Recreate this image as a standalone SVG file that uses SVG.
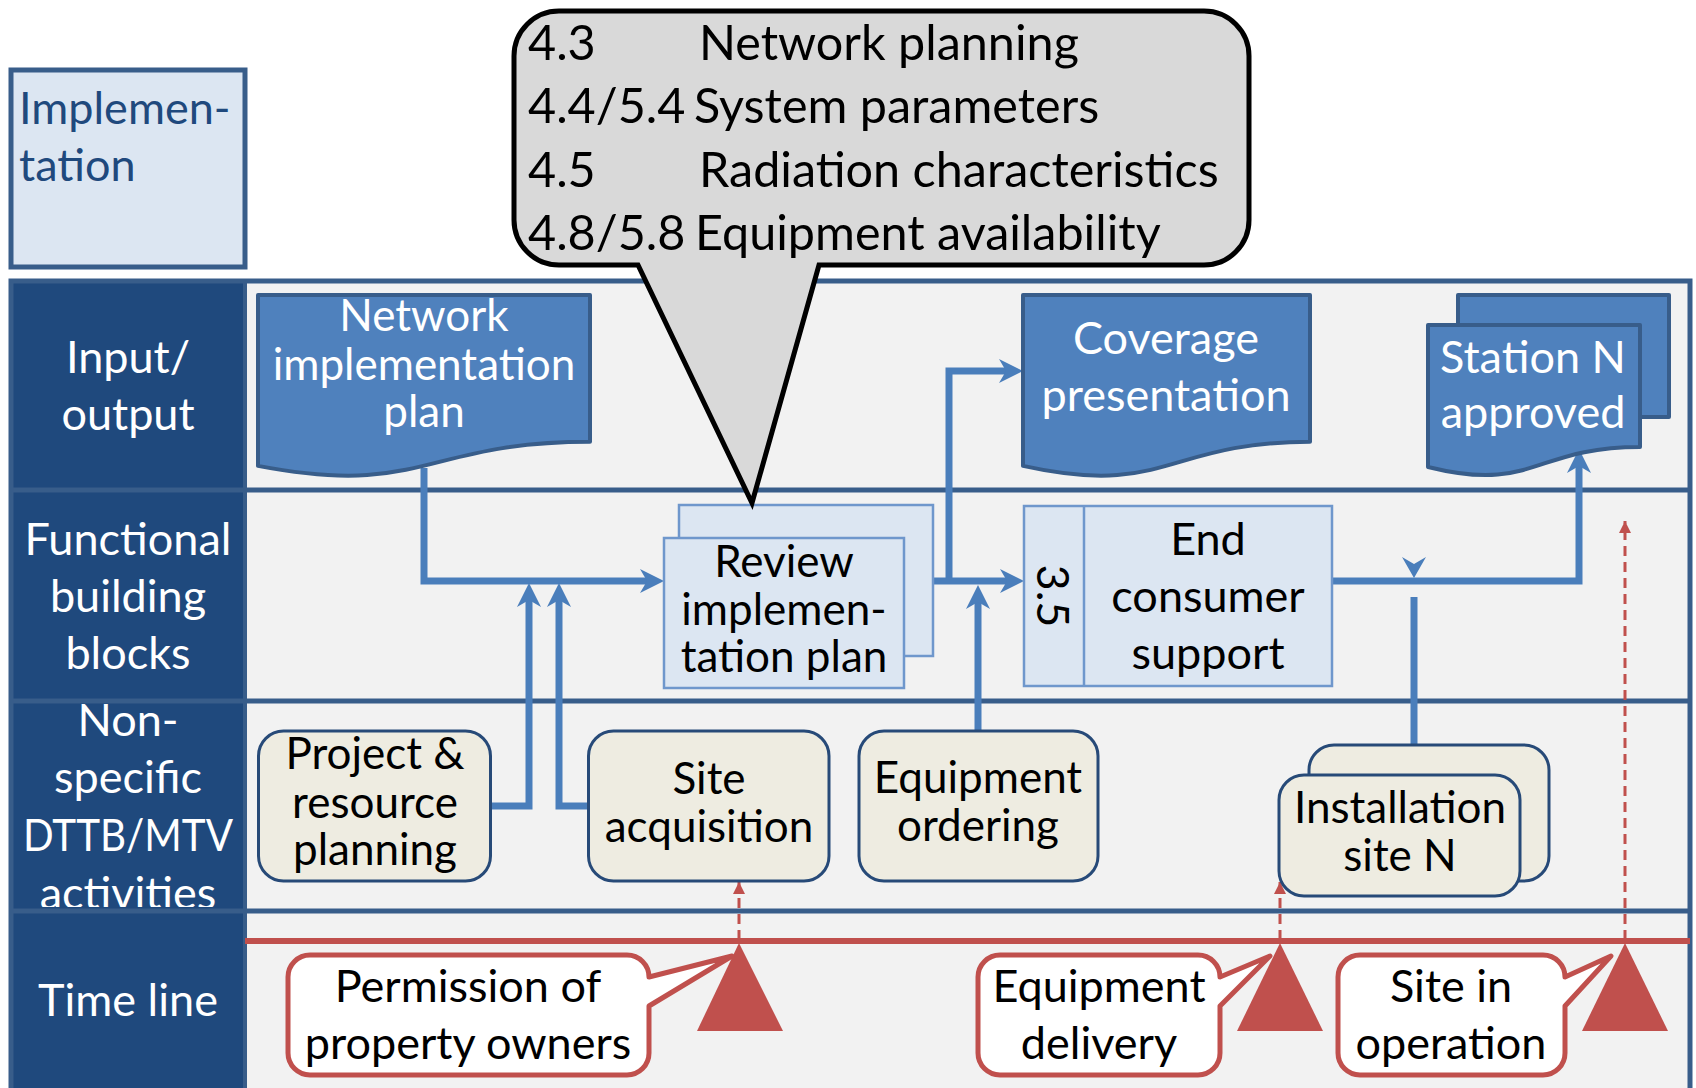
<svg xmlns="http://www.w3.org/2000/svg" width="1696" height="1088" viewBox="0 0 1696 1088">
<style>
text{font-family:Lato,"Liberation Sans",sans-serif;font-size:45px}
.hd{fill:#ffffff;text-anchor:middle}
.wt{fill:#ffffff;text-anchor:middle}
.bk{fill:#000000;text-anchor:middle}
.tight{font-size:44px}
.doc{fill:#4f81bd;stroke:#385d8a;stroke-width:4;stroke-linejoin:round}
.lb{fill:#dce6f2;stroke:#6f97cc;stroke-width:2.5}
.act{fill:#eeece1;stroke:#274a78;stroke-width:3}
.con{fill:none;stroke:#4a7ebb;stroke-width:7;stroke-linejoin:miter}
.red{fill:none;stroke:#c0504d;stroke-width:3;stroke-dasharray:10 6}
.tri{fill:#c0504d}
.co{fill:#ffffff;stroke:#c0504d;stroke-width:5;stroke-linejoin:round}
.lane{stroke:#385d8a;stroke-width:5}
.bub{font-size:48.5px;fill:#000000}
</style>
<defs>
<marker id="arr" viewBox="0 0 24 24" refX="14" refY="12" markerWidth="24" markerHeight="24" markerUnits="userSpaceOnUse" orient="auto">
<path d="M0,0 L24,12 L0,24 L7,12 Z" fill="#4a7ebb"/>
</marker>
<marker id="rarr" viewBox="0 0 12 12" refX="12" refY="6" markerWidth="12" markerHeight="12" markerUnits="userSpaceOnUse" orient="auto">
<path d="M0,0 L12,6 L0,12 Z" fill="#c0504d"/>
</marker>
<clipPath id="clipNS"><rect x="11" y="701" width="234" height="206"/></clipPath>
</defs>

<g id="frame">
<rect x="11" y="281" width="1679" height="830" fill="#f2f2f2"/>
<rect x="11" y="281" width="234" height="830" fill="#1f497d"/>
<line class="lane" x1="11" y1="490" x2="1690" y2="490"/>
<line class="lane" x1="11" y1="701" x2="1690" y2="701"/>
<line class="lane" x1="11" y1="911" x2="1690" y2="911"/>
<line x1="245" y1="281" x2="245" y2="1088" stroke="#385d8a" stroke-width="4"/>
<rect x="11" y="281" width="1679" height="830" fill="none" stroke="#385d8a" stroke-width="5"/>
</g>

<g id="lane-headers">
<text class="hd" x="128" y="373">Input/</text>
<text class="hd" x="128" y="430">output</text>
<text class="hd" x="128" y="555">Functional</text>
<text class="hd" x="128" y="612">building</text>
<text class="hd" x="128" y="669">blocks</text>
<g clip-path="url(#clipNS)">
<text class="hd" x="128" y="736">Non-</text>
<text class="hd" x="128" y="793">specific</text>
<text class="hd" x="128" y="851" textLength="210" lengthAdjust="spacingAndGlyphs">DTTB/MTV</text>
<text class="hd" x="128" y="909">activities</text>
</g>
<text class="hd" x="128" y="1016">Time line</text>
</g>

<g id="implementation">
<rect x="11" y="70" width="234" height="197" fill="#dce6f2" stroke="#385d8a" stroke-width="5"/>
<text x="19" y="124" fill="#1f497d">Implemen-</text>
<text x="19" y="181" fill="#1f497d">tation</text>
</g>

<g id="connectors">
<path class="con" d="M424,468 V581 H654" marker-end="url(#arr)"/>
<path class="con" d="M490,806 H529 V593" marker-end="url(#arr)"/>
<path class="con" d="M588,806 H559 V593" marker-end="url(#arr)"/>
<path class="con" d="M934,581 H1014" marker-end="url(#arr)"/>
<path class="con" d="M949,581 V371 H1013" marker-end="url(#arr)"/>
<path class="con" d="M978,731 V595" marker-end="url(#arr)"/>
<path class="con" d="M1332,581 H1579 V459" marker-end="url(#arr)"/>
<path class="con" d="M1414,745 V597"/>
<path d="M1402,557 L1414,578 L1426,557 L1414,564 Z" fill="#4a7ebb"/>
<path class="red" d="M739,940 V882" marker-end="url(#rarr)"/>
<path class="red" d="M1280,940 V882" marker-end="url(#rarr)"/>
<path class="red" d="M1625,940 V521" marker-end="url(#rarr)"/>
</g>

<g id="network-implementation-plan">
<path class="doc" d="M258,295 H590 V441.8 C424,441.8 424,497.7 258,465.9 Z"/>
<text class="wt tight" x="424" y="331">Network</text>
<text class="wt tight" x="424" y="380">implementation</text>
<text class="wt tight" x="424" y="427">plan</text>
</g>

<g id="coverage-presentation">
<path class="doc" d="M1023,295 H1310 V441.8 C1166.5,441.8 1166.5,497.7 1023,465.9 Z"/>
<text class="wt" x="1166" y="354">Coverage</text>
<text class="wt" x="1166" y="411">presentation</text>
</g>

<g id="station-n-approved">
<rect class="doc" x="1458" y="295" width="211" height="122"/>
<path class="doc" d="M1428,325 H1640 V446.9 C1534,446.9 1534,493.4 1428,467 Z"/>
<text class="wt" x="1533" y="373">Station N</text>
<text class="wt" x="1533" y="428">approved</text>
</g>

<g id="review-implementation-plan">
<rect class="lb" x="679" y="505" width="254" height="151"/>
<rect class="lb" x="664" y="538" width="240" height="150"/>
<text class="bk tight" x="784" y="577">Review</text>
<text class="bk tight" x="784" y="625">implemen-</text>
<text class="bk tight" x="784" y="672">tation plan</text>
</g>

<g id="end-consumer-support">
<rect class="lb" x="1024" y="506" width="308" height="180"/>
<line x1="1084" y1="506" x2="1084" y2="686" stroke="#6f97cc" stroke-width="2.5"/>
<text class="bk" transform="translate(1037,596) rotate(90)" x="0" y="0">3.5</text>
<text class="bk" x="1208" y="555">End</text>
<text class="bk" x="1208" y="612">consumer</text>
<text class="bk" x="1208" y="669">support</text>
</g>

<g id="project-resource-planning">
<rect class="act" x="258.5" y="731" width="232" height="150" rx="25"/>
<text class="bk tight" x="375" y="769">Project &amp;</text>
<text class="bk tight" x="375" y="818">resource</text>
<text class="bk tight" x="375" y="865">planning</text>
</g>

<g id="site-acquisition">
<rect class="act" x="588.5" y="731" width="240.5" height="150" rx="25"/>
<text class="bk tight" x="709" y="794">Site</text>
<text class="bk tight" x="709" y="842">acquisition</text>
</g>

<g id="equipment-ordering">
<rect class="act" x="859" y="731" width="239" height="150" rx="25"/>
<text class="bk tight" x="978" y="793">Equipment</text>
<text class="bk tight" x="978" y="841">ordering</text>
</g>

<g id="installation-site-n">
<rect class="act" x="1309" y="745" width="240" height="136" rx="25"/>
<rect class="act" x="1279" y="775" width="241" height="121" rx="25"/>
<text class="bk tight" x="1400" y="823">Installation</text>
<text class="bk tight" x="1400" y="871">site N</text>
</g>

<g id="timeline">
<line x1="245" y1="941" x2="1690" y2="941" stroke="#c0504d" stroke-width="6"/>
<polygon class="tri" points="739,943 697,1031 783,1031"/>
<polygon class="tri" points="1280,943 1237,1031 1323,1031"/>
<polygon class="tri" points="1625,943 1582,1031 1668,1031"/>
</g>

<g id="permission-of-property-owners">
<path class="co" d="M310,955 H627 A22,22 0 0 1 649,977 L732,956 L649,1006 V1053 A22,22 0 0 1 627,1075 H310 A22,22 0 0 1 288,1053 V977 A22,22 0 0 1 310,955 Z"/>
<text class="bk" x="468" y="1002">Permission of</text>
<text class="bk" x="468" y="1059">property owners</text>
</g>

<g id="equipment-delivery">
<path class="co" d="M1000,955 H1198 A22,22 0 0 1 1220,977 L1270,956 L1220,1006 V1053 A22,22 0 0 1 1198,1075 H1000 A22,22 0 0 1 978,1053 V977 A22,22 0 0 1 1000,955 Z"/>
<text class="bk" x="1099" y="1002">Equipment</text>
<text class="bk" x="1099" y="1059">delivery</text>
</g>

<g id="site-in-operation">
<path class="co" d="M1360,955 H1543 A22,22 0 0 1 1565,977 L1611,956 L1565,1006 V1053 A22,22 0 0 1 1543,1075 H1360 A22,22 0 0 1 1338,1053 V977 A22,22 0 0 1 1360,955 Z"/>
<text class="bk" x="1451" y="1002">Site in</text>
<text class="bk" x="1451" y="1059">operation</text>
</g>

<g id="chapter-callout">
<path d="M559,11 H1204 A45,45 0 0 1 1249,56 V220 A45,45 0 0 1 1204,265 H819 L752,503 L638,265 H559 A45,45 0 0 1 514,220 V56 A45,45 0 0 1 559,11 Z" fill="#d9d9d9" stroke="#000000" stroke-width="5" stroke-linejoin="miter"/>
<text class="bub" x="528" y="60">4.3</text>
<text class="bub" x="699" y="60">Network planning</text>
<text class="bub" x="528" y="123">4.4/5.4</text>
<text class="bub" x="694" y="123">System parameters</text>
<text class="bub" x="528" y="187">4.5</text>
<text class="bub" x="699" y="187">Radiation characteristics</text>
<text class="bub" x="528" y="250">4.8/5.8</text>
<text class="bub" x="695" y="250">Equipment availability</text>
</g>
</svg>
